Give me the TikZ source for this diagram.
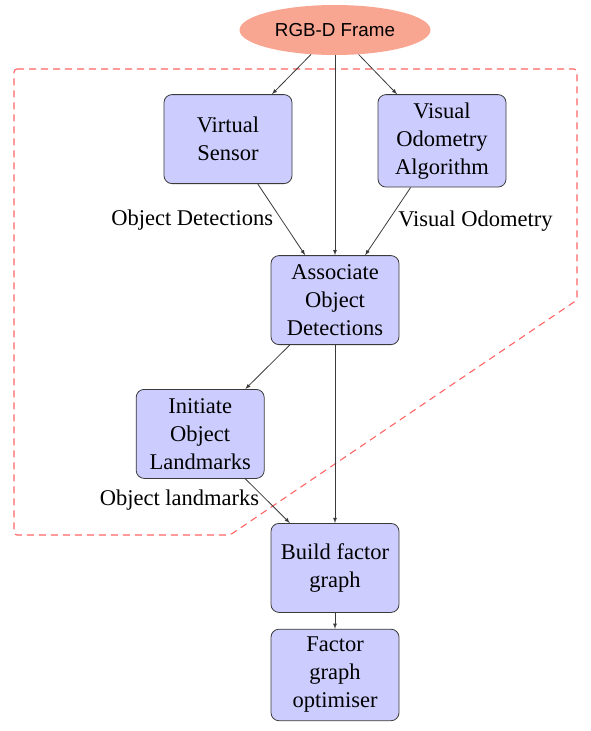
\documentclass[tikz,border=0pt]{standalone}
\usepackage{fontspec}
\setmainfont{Liberation Serif}
\newfontfamily\framefont{Liberation Sans}
\usetikzlibrary{positioning}
\usetikzlibrary{shapes.geometric}
\definecolor{lightLavender}{HTML}{CCCCFF}
\definecolor{lightSalmon}{HTML}{F8A592}
\definecolor{dashRed}{HTML}{FF6464}
\definecolor{edgeGray}{HTML}{3A3A3A}

\begin{document}
\begin{tikzpicture}[inner sep=0.0 pt, align=center,
    block/.style={draw=edgeGray, fill=lightLavender, rounded corners=8pt, line width=0.8pt, inner sep=8pt, minimum width=\boxWidth, minimum height=\boxHeight, font=\fontsize{22.5}{28}\selectfont},
    lbl/.style={inner sep=2pt, font=\fontsize{22.5}{28}\selectfont},
    arrow/.style={-latex, draw=edgeGray, line width=0.8pt}]
    \pgfmathsetmacro{\boxWidth}{128}
    \pgfmathsetmacro{\boxHeight}{89}
    \pgfmathsetmacro{\ellWidth}{191}
    \pgfmathsetmacro{\ellHeight}{50}

    \useasboundingbox (0,0) rectangle (591pt,-731pt);

    % region of the front end
    \draw [dashRed, line width=1.1pt, dash pattern=on 7pt off 5pt, rounded corners=3pt]
        (14pt,-69pt) -- (577pt,-69pt) -- (577pt,-300pt) -- (230pt,-535pt) -- (14pt,-535pt) -- cycle;

    \node (frame) [ellipse, fill=lightSalmon, minimum width=\ellWidth, minimum height=\ellHeight, font=\framefont\fontsize{18.8}{22}\selectfont] at (335pt,-30pt) {RGB-D Frame};
    \node (vs) [block, below=39pt of frame, xshift=-107pt] {Virtual\\Sensor};
    \node (voa) [block, below=39pt of frame, xshift=107pt] {Visual\\Odometry\\Algorithm};
    \node (assoc) [block, below=200pt of frame] {Associate\\Object\\Detections};
    \node (init) [block, below left=44pt and 6pt of assoc] {Initiate\\Object\\Landmarks};
    \node (build) [block, below=178pt of assoc] {Build factor\\graph};
    \node (opt) [block, below=16pt of build] {Factor\\graph\\optimiser};

    \draw [arrow] (frame) -- (vs);
    \draw [arrow] (frame) -- (voa);
    \draw [arrow] (frame) -- (assoc);
    \draw [arrow] (vs) -- (assoc) node[lbl, midway, left, xshift=-6pt] {Object Detections};
    \draw [arrow] (voa) -- (assoc) node[lbl, midway, right, xshift=8pt] {Visual Odometry};
    \draw [arrow] (assoc) -- (init);
    \draw [arrow] (init) -- (build) node[lbl, midway, left, xshift=-6pt, yshift=1pt] {Object landmarks};
    \draw [arrow] (assoc) -- (build);
    \draw [arrow] (build) -- (opt);

\end{tikzpicture}
\end{document}
